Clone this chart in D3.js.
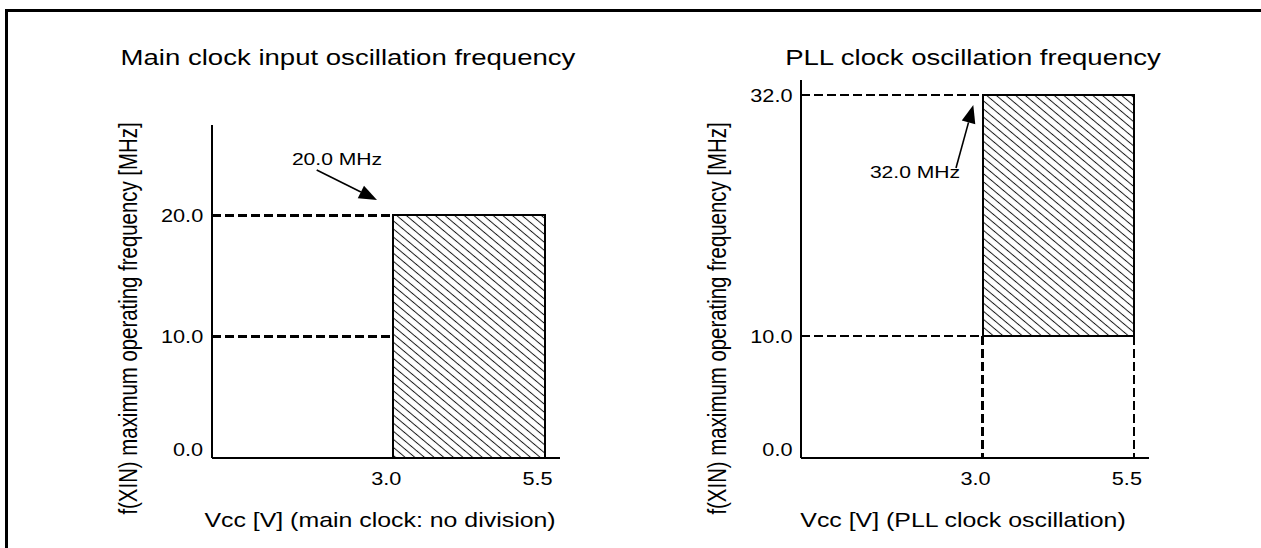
<!DOCTYPE html>
<html>
<head>
<meta charset="utf-8">
<script src="https://cdn.jsdelivr.net/npm/d3@7"></script>
<style>
  html, body { margin: 0; padding: 0; background: #fff; }
  svg { display: block; }
  text { font-family: "Liberation Sans", Arial, sans-serif; fill: #000; }
</style>
</head>
<body>
<svg id="chart" width="1261" height="548"></svg>
<script>
// ---- data ----
const titles = ["Main clock input oscillation frequency", "PLL clock oscillation frequency"];
const xTitles = ["Vcc [V] (main clock: no division)", "Vcc [V] (PLL clock oscillation)"];
const yTitle = "f(XIN) maximum operating frequency [MHz]";
const voltageTicks = [3.0, 5.5];
const mainFreqTicks = [0.0, 10.0, 20.0];
const pllFreqTicks = [0.0, 10.0, 32.0];
const mainBand = [3.0, 5.5];      // Vcc range
const mainFreq = [0.0, 20.0];     // f range
const pllBand = [3.0, 5.5];
const pllFreq = [10.0, 32.0];
const mainNote = "20.0 MHz";
const pllNote = "32.0 MHz";

const svg = d3.select("#chart");
const SX = 1.22;         // the reference is stretched horizontally
const fs = { title: 22.6, axis: 20.4, tick: 17.8, note: 17.3 };

// frame (top + left only)
svg.append("path").attr("d", "M6.5,548 V10.5 H1261")
  .attr("fill", "none").attr("stroke", "#000").attr("stroke-width", 3);

// hatch pattern
const defs = svg.append("defs");
defs.append("pattern")
  .attr("id", "hatch")
  .attr("patternUnits", "userSpaceOnUse")
  .attr("width", 6.2).attr("height", 6.2)
  .attr("patternTransform", "rotate(40)")
  .append("line")
  .attr("x1", -1).attr("x2", 8).attr("y1", 3.1).attr("y2", 3.1)
  .attr("stroke", "#1a1a1a").attr("stroke-width", 1);

function stretchedText(g, x, y, str, anchor, size) {
  return g.append("text")
    .attr("transform", `translate(${x},${y}) scale(${SX},1)`)
    .attr("text-anchor", anchor || "middle")
    .style("font-size", size + "px")
    .text(str);
}

function arrow(g, x1, y1, x2, y2) {
  const a = Math.atan2(y2 - y1, x2 - x1);
  const L = 18, W = 7;
  const bx = x2 - L * Math.cos(a), by = y2 - L * Math.sin(a);
  g.append("line").attr("x1", x1).attr("y1", y1).attr("x2", bx).attr("y2", by)
    .attr("stroke", "#000").attr("stroke-width", 1.6);
  const p = [[x2, y2],
    [bx + W * Math.sin(a), by - W * Math.cos(a)],
    [bx - W * Math.sin(a), by + W * Math.cos(a)]];
  g.append("path").attr("d", "M" + p.join("L") + "Z").attr("fill", "#000");
}

function panel(opt) {
  const g = svg.append("g");
  const x = d3.scaleLinear().domain([0, 5.75]).range([opt.ox, opt.ox + 348]);
  const y = d3.scaleLinear().domain(opt.yDomain).range(opt.yRange);
  const y0 = y(0);

  // title
  stretchedText(g, opt.titleX, 65, opt.title, "middle", fs.title);

  // dashed guides
  const dash = (x1, y1, x2, y2) => g.append("line")
    .attr("x1", x1).attr("y1", y1).attr("x2", x2).attr("y2", y2)
    .attr("stroke", "#000").attr("stroke-width", 2.6)
    .attr("stroke-dasharray", "9,4").attr("shape-rendering", "crispEdges");
  opt.guides(dash, x, y);

  // hatched operating region
  g.append("rect")
    .attr("x", x(opt.band[0])).attr("y", y(opt.freq[1]))
    .attr("width", x(opt.band[1]) - x(opt.band[0]))
    .attr("height", y(opt.freq[0]) - y(opt.freq[1]))
    .attr("fill", "url(#hatch)").attr("stroke", "#000").attr("stroke-width", 2)
    .attr("shape-rendering", "crispEdges");

  // axis lines
  g.append("line").attr("x1", x(0)).attr("x2", x(0)).attr("y1", opt.axisTop).attr("y2", y0)
    .attr("stroke", "#000").attr("stroke-width", 2).attr("shape-rendering", "crispEdges");
  g.append("line").attr("x1", x(0)).attr("x2", x(5.75)).attr("y1", y0).attr("y2", y0)
    .attr("stroke", "#000").attr("stroke-width", 2).attr("shape-rendering", "crispEdges");

  // tick labels
  opt.yTicks.forEach(v => {
    const yy = v === 0 ? y0 - 1.7 : y(v) + 6.5;
    stretchedText(g, x(0) - 8.5, yy, d3.format(".1f")(v), "end", fs.tick);
  });
  voltageTicks.forEach(v => {
    stretchedText(g, x(v) - 7, 485, d3.format(".1f")(v), "middle", fs.tick);
  });

  // axis titles
  stretchedText(g, opt.xTitleX, 527, opt.xTitle, "middle", fs.axis);
  g.append("text")
    .attr("transform", `translate(${opt.ox - 75},${318.5}) scale(${SX},1) rotate(-90)`)
    .attr("text-anchor", "middle")
    .style("font-size", fs.axis + "px")
    .text(yTitle);

  // annotation
  stretchedText(g, opt.note.tx, opt.note.ty, opt.note.text, "middle", fs.note);
  arrow(g, opt.note.a[0], opt.note.a[1], opt.note.a[2], opt.note.a[3]);
}

panel({
  ox: 211.7,
  yDomain: [0, 10, 20], yRange: [457.7, 336.7, 215.3],
  axisTop: 125,
  title: titles[0], titleX: 348,
  xTitle: xTitles[0], xTitleX: 380,
  yTicks: mainFreqTicks,
  band: mainBand, freq: mainFreq,
  guides: (dash, x, y) => {
    dash(x(0), y(20), x(3), y(20));
    dash(x(0), y(10), x(3), y(10));
  },
  note: { text: mainNote, tx: 337, ty: 165, a: [316.7, 170, 377, 200] }
});

panel({
  ox: 801,
  yDomain: [0, 10, 32], yRange: [457.7, 336, 95],
  axisTop: 80,
  title: titles[1], titleX: 973,
  xTitle: xTitles[1], xTitleX: 963,
  yTicks: pllFreqTicks,
  band: pllBand, freq: pllFreq,
  guides: (dash, x, y) => {
    dash(x(0), y(32), x(3), y(32));
    dash(x(0), y(10), x(3), y(10));
    dash(x(3), y(10), x(3), y(0));
    dash(x(5.5), y(10), x(5.5), y(0));
  },
  note: { text: pllNote, tx: 915, ty: 178, a: [956, 168, 973.3, 105] }
});
</script>
</body>
</html>
